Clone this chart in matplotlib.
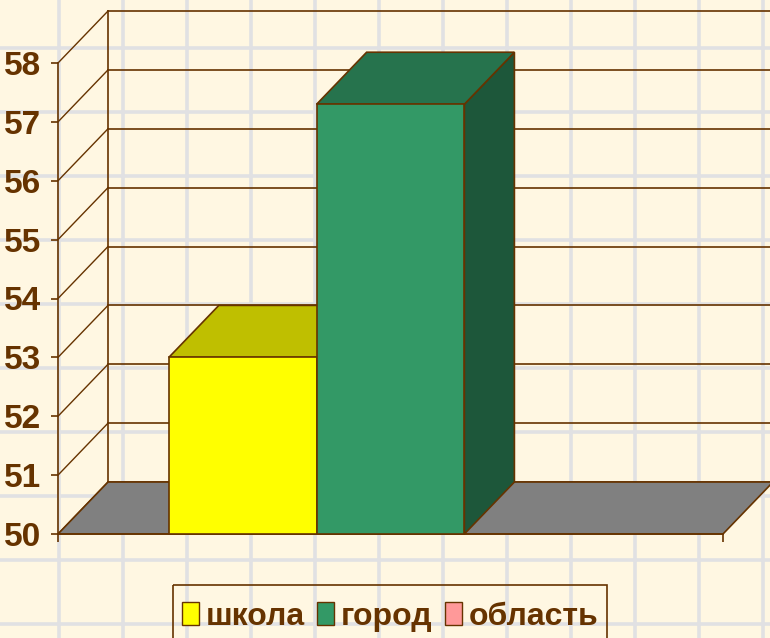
import matplotlib
matplotlib.use("Agg")
import matplotlib.pyplot as plt
from matplotlib.patches import Polygon, Rectangle
import numpy as np

# series and values
series = ["школа", "город", "область"]
values = [53.0, 57.3, 50.0]
colors = ["#FFFF00", "#339966", "#FF9999"]
y_ticks = [50, 51, 52, 53, 54, 55, 56, 57, 58]

BG = "#FFF7E2"
GRID = "#E1E1E3"
INK = "#663300"
FLOOR = "#808080"
FONT = ["Liberation Sans", "DejaVu Sans"]

W, H, DPI = 770, 638, 100
fig = plt.figure(figsize=(W / DPI, H / DPI), dpi=DPI)
fig.patch.set_facecolor(BG)

# squared-paper background, in pixel units
bg = fig.add_axes([0, 0, 1, 1])
bg.set_xlim(0, W); bg.set_ylim(H, 0)
bg.set_facecolor(BG)
bg.set_xticks(np.arange(59, W, 64)); bg.set_yticks(np.arange(48, H, 64))
bg.grid(True, color=GRID, lw=2.6)
bg.tick_params(length=0, labelbottom=False, labelleft=False)
for s in bg.spines.values():
    s.set_visible(False)

# value axes (front plane)
ax = fig.add_axes([58 / W, (H - 534) / H, 665 / W, 471 / H])
ax.set_xlim(0, 1); ax.set_ylim(y_ticks[0], y_ticks[-1])
ax.patch.set_visible(False)
for k in ("top", "right"):
    ax.spines[k].set_visible(False)
for k in ("left", "bottom"):
    ax.spines[k].set_color(INK); ax.spines[k].set_linewidth(1.2)
ax.set_yticks(y_ticks)
ax.set_yticklabels([str(t) for t in y_ticks], family=FONT, weight="bold",
                   fontsize=24, color=INK)
ax.set_xticks([0, 1]); ax.set_xticklabels(["", ""])
ax.tick_params(axis="y", direction="out", length=5, width=1.2, color=INK, pad=7)
ax.tick_params(axis="x", direction="out", length=6, width=1.2, color=INK)

# depth offset of the 3D box, in data units
DX, DY = 0.0752, 0.883
y0 = y_ticks[0]
EDGE = dict(edgecolor=INK, linewidth=1.2, clip_on=False)

# floor
ax.add_patch(Polygon([(0, y0), (1, y0), (1 + DX, y0 + DY), (DX, y0 + DY)],
                     facecolor=FLOOR, zorder=2, **EDGE))

# back wall gridlines and left wall diagonals
for t in y_ticks:
    ax.plot([DX, 1 + DX], [t + DY, t + DY], color=INK, lw=1.2, clip_on=False, zorder=1)
    ax.plot([0, DX], [t, t + DY], color=INK, lw=1.0, clip_on=False, zorder=1)
ax.plot([DX, DX], [y0 + DY, y_ticks[-1] + DY], color=INK, lw=1.2, clip_on=False, zorder=1)


def shade(c, f):
    rgb = np.array(matplotlib.colors.to_rgb(c)) * f
    return tuple(rgb)


# bars, one category, series side by side with 150% gap
bw = 1 / 4.5
for i, (v, c) in enumerate(zip(values, colors)):
    if v <= y0:
        continue
    x0 = 0.75 * bw + i * bw
    x1 = x0 + bw
    z = 3 + i
    ax.add_patch(Polygon([(x1, y0), (x1 + DX, y0 + DY), (x1 + DX, v + DY), (x1, v)],
                         facecolor=shade(c, 0.57), zorder=z, **EDGE))
    ax.add_patch(Polygon([(x0, v), (x1, v), (x1 + DX, v + DY), (x0 + DX, v + DY)],
                         facecolor=shade(c, 0.75), zorder=z, **EDGE))
    ax.add_patch(Polygon([(x0, y0), (x1, y0), (x1, v), (x0, v)],
                         facecolor=c, zorder=z, **EDGE))

# legend at the bottom, laid out left to right in pixel units
fig.canvas.draw()
renderer = fig.canvas.get_renderer()
items = []
x = 0.0
for name, c in zip(series, colors):
    mk = Rectangle((x, 602), 17, 23, facecolor=c, edgecolor=INK, lw=1.0, zorder=5)
    bg.add_patch(mk)
    tx = bg.text(x + 24, 625, name, family=FONT, weight="bold", fontsize=23,
                 color=INK, ha="left", va="baseline", zorder=5)
    tw = tx.get_window_extent(renderer).width
    items.append((mk, tx))
    x += 24 + tw + 12
total = x - 12
left = 390 - total / 2
for mk, tx in items:
    mk.set_x(mk.get_x() + left)
    tx.set_x(tx.get_position()[0] + left)
bg.add_patch(Rectangle((left - 9, 585), total + 18, 70, facecolor="none",
                       edgecolor=INK, lw=1.2, clip_on=False, zorder=5))

fig.savefig("out.png", dpi=DPI, facecolor=BG)
